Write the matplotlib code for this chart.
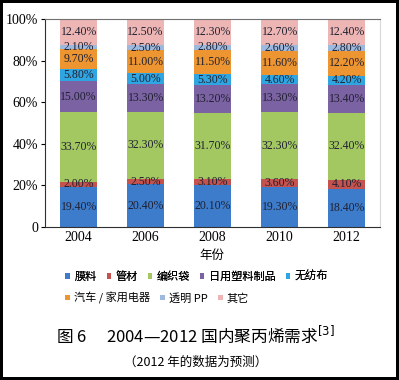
import numpy as np
import matplotlib
matplotlib.use('Agg')
import matplotlib.pyplot as plt
from matplotlib.patches import Patch

plt.rcParams['font.family'] = ['Liberation Serif', 'Noto Sans CJK SC', 'DejaVu Sans']

years = ['2004', '2006', '2008', '2010', '2012']
categories = ['膜料', '管材', '编织袋', '日用塑料制品', '无纺布',
              '汽车 / 家用电器', '透明 PP', '其它']
film = [19.4, 20.4, 20.1, 19.3, 18.4]
pipe = [2.0, 2.5, 3.1, 3.6, 4.1]
woven_bag = [33.7, 32.3, 31.7, 32.3, 32.4]
daily_goods = [15.0, 13.3, 13.2, 13.3, 13.4]
nonwoven = [5.8, 5.0, 5.3, 4.6, 4.2]
auto_appliance = [9.7, 11.0, 11.5, 11.6, 12.2]
clear_pp = [2.1, 2.5, 2.8, 2.6, 2.8]
other = [12.4, 12.5, 12.3, 12.7, 12.4]

series = [film, pipe, woven_bag, daily_goods, nonwoven, auto_appliance, clear_pp, other]
colors = ['#3D7CCB', '#C4524E', '#A3C862', '#7B62A2', '#2FA6E2',
          '#EC9531', '#9DB9DE', '#EDB6B4']

vals = np.array(series)
norm = vals / vals.sum(axis=0) * 100

fig = plt.figure(figsize=(3.99, 3.80), dpi=100, edgecolor='black', linewidth=4)
ax = fig.add_axes([0.113, 0.403, 0.840, 0.547])

x = np.arange(len(years))
bottom = np.zeros(len(years))
for i, (name, col) in enumerate(zip(categories, colors)):
    ax.bar(x, norm[i], 0.55, bottom=bottom, color=col, label=name)
    for j in range(len(years)):
        ax.text(x[j], bottom[j] + norm[i][j] / 2, '%.2f%%' % vals[i][j],
                ha='center', va='center', fontsize=8.5, color='#202030')
    bottom += norm[i]

ax.set_xlim(-0.5, len(years) - 0.5)
ax.set_ylim(0, 100)
ax.set_yticks([0, 20, 40, 60, 80, 100])
ax.set_yticklabels(['0', '20%', '40%', '60%', '80%', '100%'], fontsize=10)
ax.set_xticks(x)
ax.set_xticklabels(years, fontsize=10)
ax.tick_params(axis='x', length=0, pad=3)
ax.tick_params(axis='y', length=3, pad=2)
ax.spines['left'].set_color('#303030')
ax.spines['bottom'].set_color('#303030')
ax.spines['top'].set_color('#707070')
ax.spines['right'].set_color('#d8d8d8')

fig.text(0.53, 0.327, '年份', ha='center', va='center', fontsize=9,
         family=['Noto Sans CJK SC'])

handles = [Patch(facecolor=c, edgecolor='none') for c in colors]
leg1 = fig.legend(handles[:5], categories[:5], loc='center left',
                  bbox_to_anchor=(0.15, 0.272), ncol=5, frameon=False,
                  handlelength=0.4, handleheight=0.4,
                  handletextpad=0.4, columnspacing=0.9, borderpad=0,
                  prop={'family': ['Noto Sans CJK SC'], 'size': 8})
fig.add_artist(leg1)
fig.legend(handles[5:], categories[5:], loc='center left',
           bbox_to_anchor=(0.15, 0.216), ncol=3, frameon=False,
           handlelength=0.4, handleheight=0.4,
           handletextpad=0.4, columnspacing=0.9, borderpad=0,
           prop={'family': ['Noto Sans CJK SC', 'DejaVu Sans'], 'size': 8})

fig.text(0.49, 0.118, '图 6　 2004—2012 国内聚丙烯需求$^{[3]}$', ha='center', va='center',
         fontsize=12, family=['Noto Sans CJK SC', 'DejaVu Sans'])
fig.text(0.49, 0.047, '（2012 年的数据为预测）', ha='center', va='center',
         fontsize=9, family=['Noto Sans CJK SC', 'DejaVu Sans'])

fig.savefig('out.png', dpi=100)
